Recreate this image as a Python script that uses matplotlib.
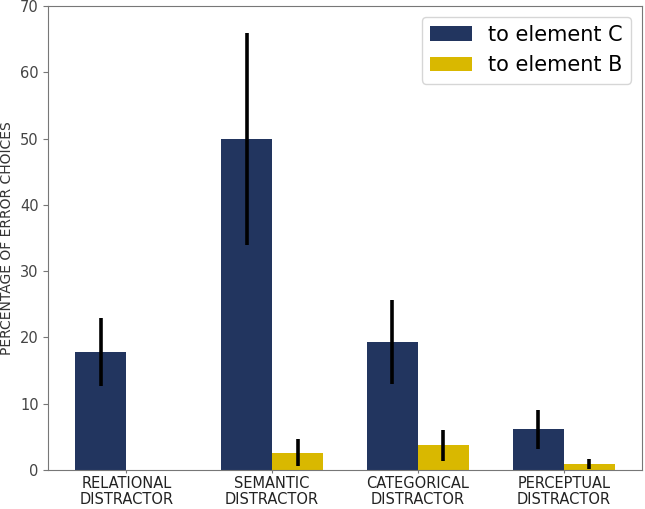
import matplotlib
matplotlib.use("Agg")
import matplotlib.pyplot as plt
import numpy as np

categories = ["RELATIONAL\nDISTRACTOR", "SEMANTIC\nDISTRACTOR", "CATEGORICAL\nDISTRACTOR", "PERCEPTUAL\nDISTRACTOR"]
to_c = [17.8, 50.0, 19.3, 6.1]
to_c_err = [5.1, 16.0, 6.3, 3.0]
to_b = [0.0, 2.6, 3.7, 0.9]
to_b_err = [0.0, 2.1, 2.3, 0.8]
series_labels = ["to element C", "to element B"]

fig, ax = plt.subplots(figsize=(6.45, 5.09), dpi=100)
fig.subplots_adjust(left=0.075, right=0.995, top=0.988, bottom=0.077)
x = np.arange(len(categories))
w = 0.35
ax.bar(x - w/2, to_c, w, color="#22355f", label=series_labels[0],
       yerr=to_c_err, error_kw=dict(ecolor="black", elinewidth=2.6, capsize=0))
b_err = [e if v > 0 else np.nan for v, e in zip(to_b, to_b_err)]
ax.bar(x + w/2, to_b, w, color="#d9b800", label=series_labels[1],
       yerr=b_err, error_kw=dict(ecolor="black", elinewidth=2.6, capsize=0))
ax.set_xticks(x)
ax.set_xticklabels(categories, fontsize=10.5, linespacing=1.1)
ax.set_ylim(0, 70)
ax.set_ylabel("PERCENTAGE OF ERROR CHOICES", fontsize=10, color="#333333")
ax.tick_params(axis="x", length=2.5, pad=2, colors="#777777", labelcolor="#222222")
ax.tick_params(axis="y", labelsize=10.5, colors="#777777", labelcolor="#444444")
for s in ax.spines.values():
    s.set_color("#777777")
ax.legend(loc="upper right", fontsize=15, handlelength=2.0)
fig.savefig("out.png")
